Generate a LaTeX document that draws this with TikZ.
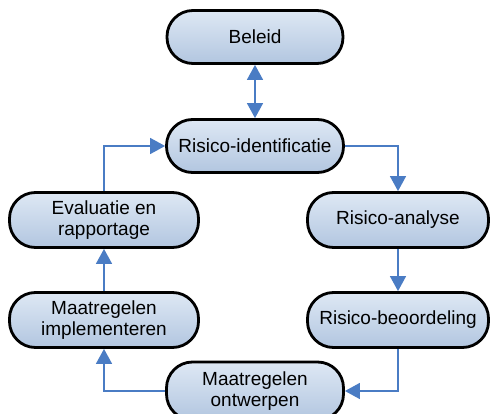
\documentclass[tikz,border=0pt]{standalone}
\usepackage{fontspec}
\setmainfont{Liberation Sans}
\usetikzlibrary{arrows.meta}
\definecolor{lijn}{HTML}{4A7CC4}
\definecolor{boven}{HTML}{DEE8F4}
\definecolor{onder}{HTML}{B2C6E0}
\begin{document}
\begin{tikzpicture}[x=1pt,y=-1pt,>={Triangle[width=16pt,length=15pt]},
	stap/.style={draw=black,line width=2.8pt,rounded corners=26pt,top color=boven,bottom color=onder,
		minimum height=53pt,align=center,font=\fontsize{19}{21}\selectfont,inner sep=0pt},
	pijl/.style={draw=lijn,line width=1.4pt,color=lijn}]
			\useasboundingbox (0,0) rectangle (490,414);
			\node[stap,minimum width=176pt] (beleid) at (255,37) {Beleid};
			\node[stap,minimum width=177pt] (ident) at (255,146) {Risico-identificatie};
			\node[stap,minimum width=181pt,minimum height=55pt] (analyse) at (398,220) {Risico-analyse};
			\node[stap,minimum width=181pt,minimum height=55pt] (beoord) at (398,320) {Risico-beoordeling};
			\node[stap,minimum width=177pt,minimum height=58pt] (ontwerp) at (255,391) {Maatregelen\\ontwerpen};
			\node[stap,minimum width=189pt,minimum height=55pt] (implem) at (104,320) {Maatregelen\\implementeren};
			\node[stap,minimum width=189pt,minimum height=55pt] (evalu) at (104,220) {Evaluatie en\\rapportage};
			\draw[pijl,<->] (beleid) -- (ident);
			\draw[pijl,->] (ident.east) -| (analyse.north);
			\draw[pijl,->] (analyse) -- (beoord);
			\draw[pijl,->] (beoord.south) |- (ontwerp.east);
			\draw[pijl,->] (ontwerp.west) -| (implem.south);
			\draw[pijl,->] (implem) -- (evalu);
			\draw[pijl,->] (evalu.north) |- (ident.west);
		\end{tikzpicture}
\end{document}
